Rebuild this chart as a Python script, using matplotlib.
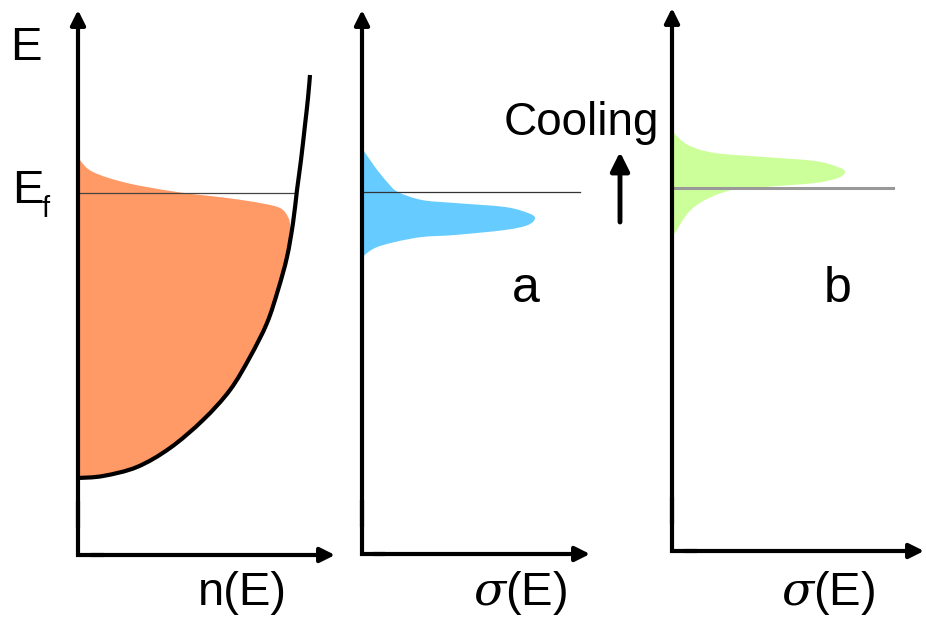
import matplotlib
matplotlib.use("Agg")
import matplotlib.pyplot as plt
import numpy as np
from matplotlib.path import Path
from matplotlib.patches import PathPatch

plt.rcParams['font.family'] = ['Liberation Sans', 'DejaVu Sans']
plt.rcParams['mathtext.fontset'] = 'dejavuserif'

# ---------------- data (arbitrary units) ----------------
# Panel 1: density of states n(E)
dos_n = [0, 25, 59, 92, 125, 152, 172, 189, 200, 209, 215, 219, 223, 227, 230, 232]
dos_E = [77, 79, 88, 107, 135, 165, 198, 232, 265, 298, 332, 365, 395, 430, 457, 480]
# occupied states n(E) f(E)
occ_E = [77, 79, 88, 107, 135, 165, 198, 232, 265, 298, 327, 338, 347, 352, 357, 363, 372, 383, 395, 402]
occ_n = [0, 25, 59, 92, 125, 152, 172, 189, 200, 209, 212, 210, 202, 182, 149, 99, 49, 15, 2, 0]
ef_1 = 362
ef_1_len = 217

# Panel 2: sigma(E), case a
sig_a_E = [297, 306, 312, 317, 319, 324, 329, 336, 341, 347, 351, 354, 362, 371, 387, 406]
sig_a = [0, 13, 33, 60, 93, 143, 166, 173, 166, 143, 93, 60, 36, 26, 13, 0]
ef_2 = 362
ef_2_len = 218

# Panel 3: sigma(E), case b
sig_b_E = [316, 318, 338, 351, 361, 364, 368, 373, 379, 384, 390, 394, 398, 406, 419, 421]
sig_b = [0, 3, 16, 33, 60, 93, 143, 166, 173, 166, 143, 93, 43, 16, 1, 0]
ef_3 = 363
ef_3_len = 221

W, H = 926, 617
fig = plt.figure(figsize=(W / 100, H / 100), dpi=100)


def smooth_path(xs, ys, close_to_axis=False):
    """Catmull-Rom curve through the given points drawn as cubic Bezier segments."""
    p = np.column_stack([xs, ys]).astype(float)
    n = len(p)
    verts = [p[0]]
    codes = [Path.MOVETO]
    for i in range(n - 1):
        p0 = p[i - 1] if i > 0 else p[i]
        p1 = p[i]
        p2 = p[i + 1]
        p3 = p[i + 2] if i + 2 < n else p[i + 1]
        c1 = p1 + (p2 - p0) / 6.0
        c2 = p2 - (p3 - p1) / 6.0
        verts += [c1, c2, p2]
        codes += [Path.CURVE4] * 3
    if close_to_axis:
        verts += [(0, p[-1][1]), (0, p[0][1]), p[0]]
        codes += [Path.LINETO, Path.LINETO, Path.CLOSEPOLY]
    return Path(verts, codes)


def panel(x0, yb, x1, yt):
    ax = fig.add_axes([x0 / W, 1 - yb / H, (x1 - x0) / W, (yb - yt) / H])
    ax.set_xlim(0, x1 - x0)
    ax.set_ylim(0, yb - yt)
    ax.axis('off')
    return ax


def draw_axes_arrows(ax):
    ap = dict(arrowstyle='-|>', color='black', lw=3, mutation_scale=22,
              shrinkA=0, shrinkB=0)
    ax.annotate('', xy=(0, 1), xytext=(0, 0.05), xycoords='axes fraction', arrowprops=ap,
                zorder=6)
    ax.annotate('', xy=(1, 0), xytext=(0.05, 0), xycoords='axes fraction', arrowprops=ap,
                zorder=6)
    ax.plot([0, 0, 0.1], [0.1, 0, 0], transform=ax.transAxes, color='black', lw=3,
            solid_joinstyle='miter', solid_capstyle='butt', clip_on=False, zorder=6)


ax1 = panel(78, 555, 335, 10)
ax1.add_patch(PathPatch(smooth_path(occ_n, occ_E, True), facecolor='#FF9966', lw=0))
ax1.plot([0, ef_1_len], [ef_1, ef_1], color='#444444', lw=0.9)
ax1.add_patch(PathPatch(smooth_path(dos_n, dos_E), facecolor='none', edgecolor='black',
                        lw=3, capstyle='butt', clip_on=False, zorder=4))
draw_axes_arrows(ax1)

ax2 = panel(362, 554, 590, 10)
ax2.add_patch(PathPatch(smooth_path(sig_a, sig_a_E, True), facecolor='#66CCFF', lw=0))
ax2.plot([0, ef_2_len], [ef_2, ef_2], color='#333333', lw=0.9)
draw_axes_arrows(ax2)

ax3 = panel(672, 551, 924, 8)
ax3.add_patch(PathPatch(smooth_path(sig_b, sig_b_E, True), facecolor='#CCFF99', lw=0))
ax3.plot([0, ef_3_len], [ef_3, ef_3], color='#999999', lw=2.2)
draw_axes_arrows(ax3)


def ftext(x, y, s, **kw):
    fig.text(x / W, 1 - y / H, s, **kw)


fs = 34
ftext(10, 60, 'E', fontsize=fs, ha='left', va='baseline')
ftext(12, 203, 'E', fontsize=fs, ha='left', va='baseline')
ftext(42, 217, 'f', fontsize=21, ha='left', va='baseline')
ftext(242, 605, 'n(E)', fontsize=fs, ha='center', va='baseline')
ftext(520, 605, r'$\sigma$(E)', fontsize=fs, ha='center', va='baseline')
ftext(828, 605, r'$\sigma$(E)', fontsize=fs, ha='center', va='baseline')
ftext(526, 302, 'a', fontsize=36, ha='center', va='baseline')
ftext(838, 302, 'b', fontsize=36, ha='center', va='baseline')
ftext(581, 135, 'Cooling', fontsize=33, ha='center', va='baseline')

ax2.annotate('', xy=(620, H - 152), xytext=(620, H - 222), xycoords='figure pixels',
             arrowprops=dict(arrowstyle='-|>', color='black', lw=3.5, mutation_scale=28,
                             shrinkA=0, shrinkB=0))

fig.savefig('out.png', dpi=100)
